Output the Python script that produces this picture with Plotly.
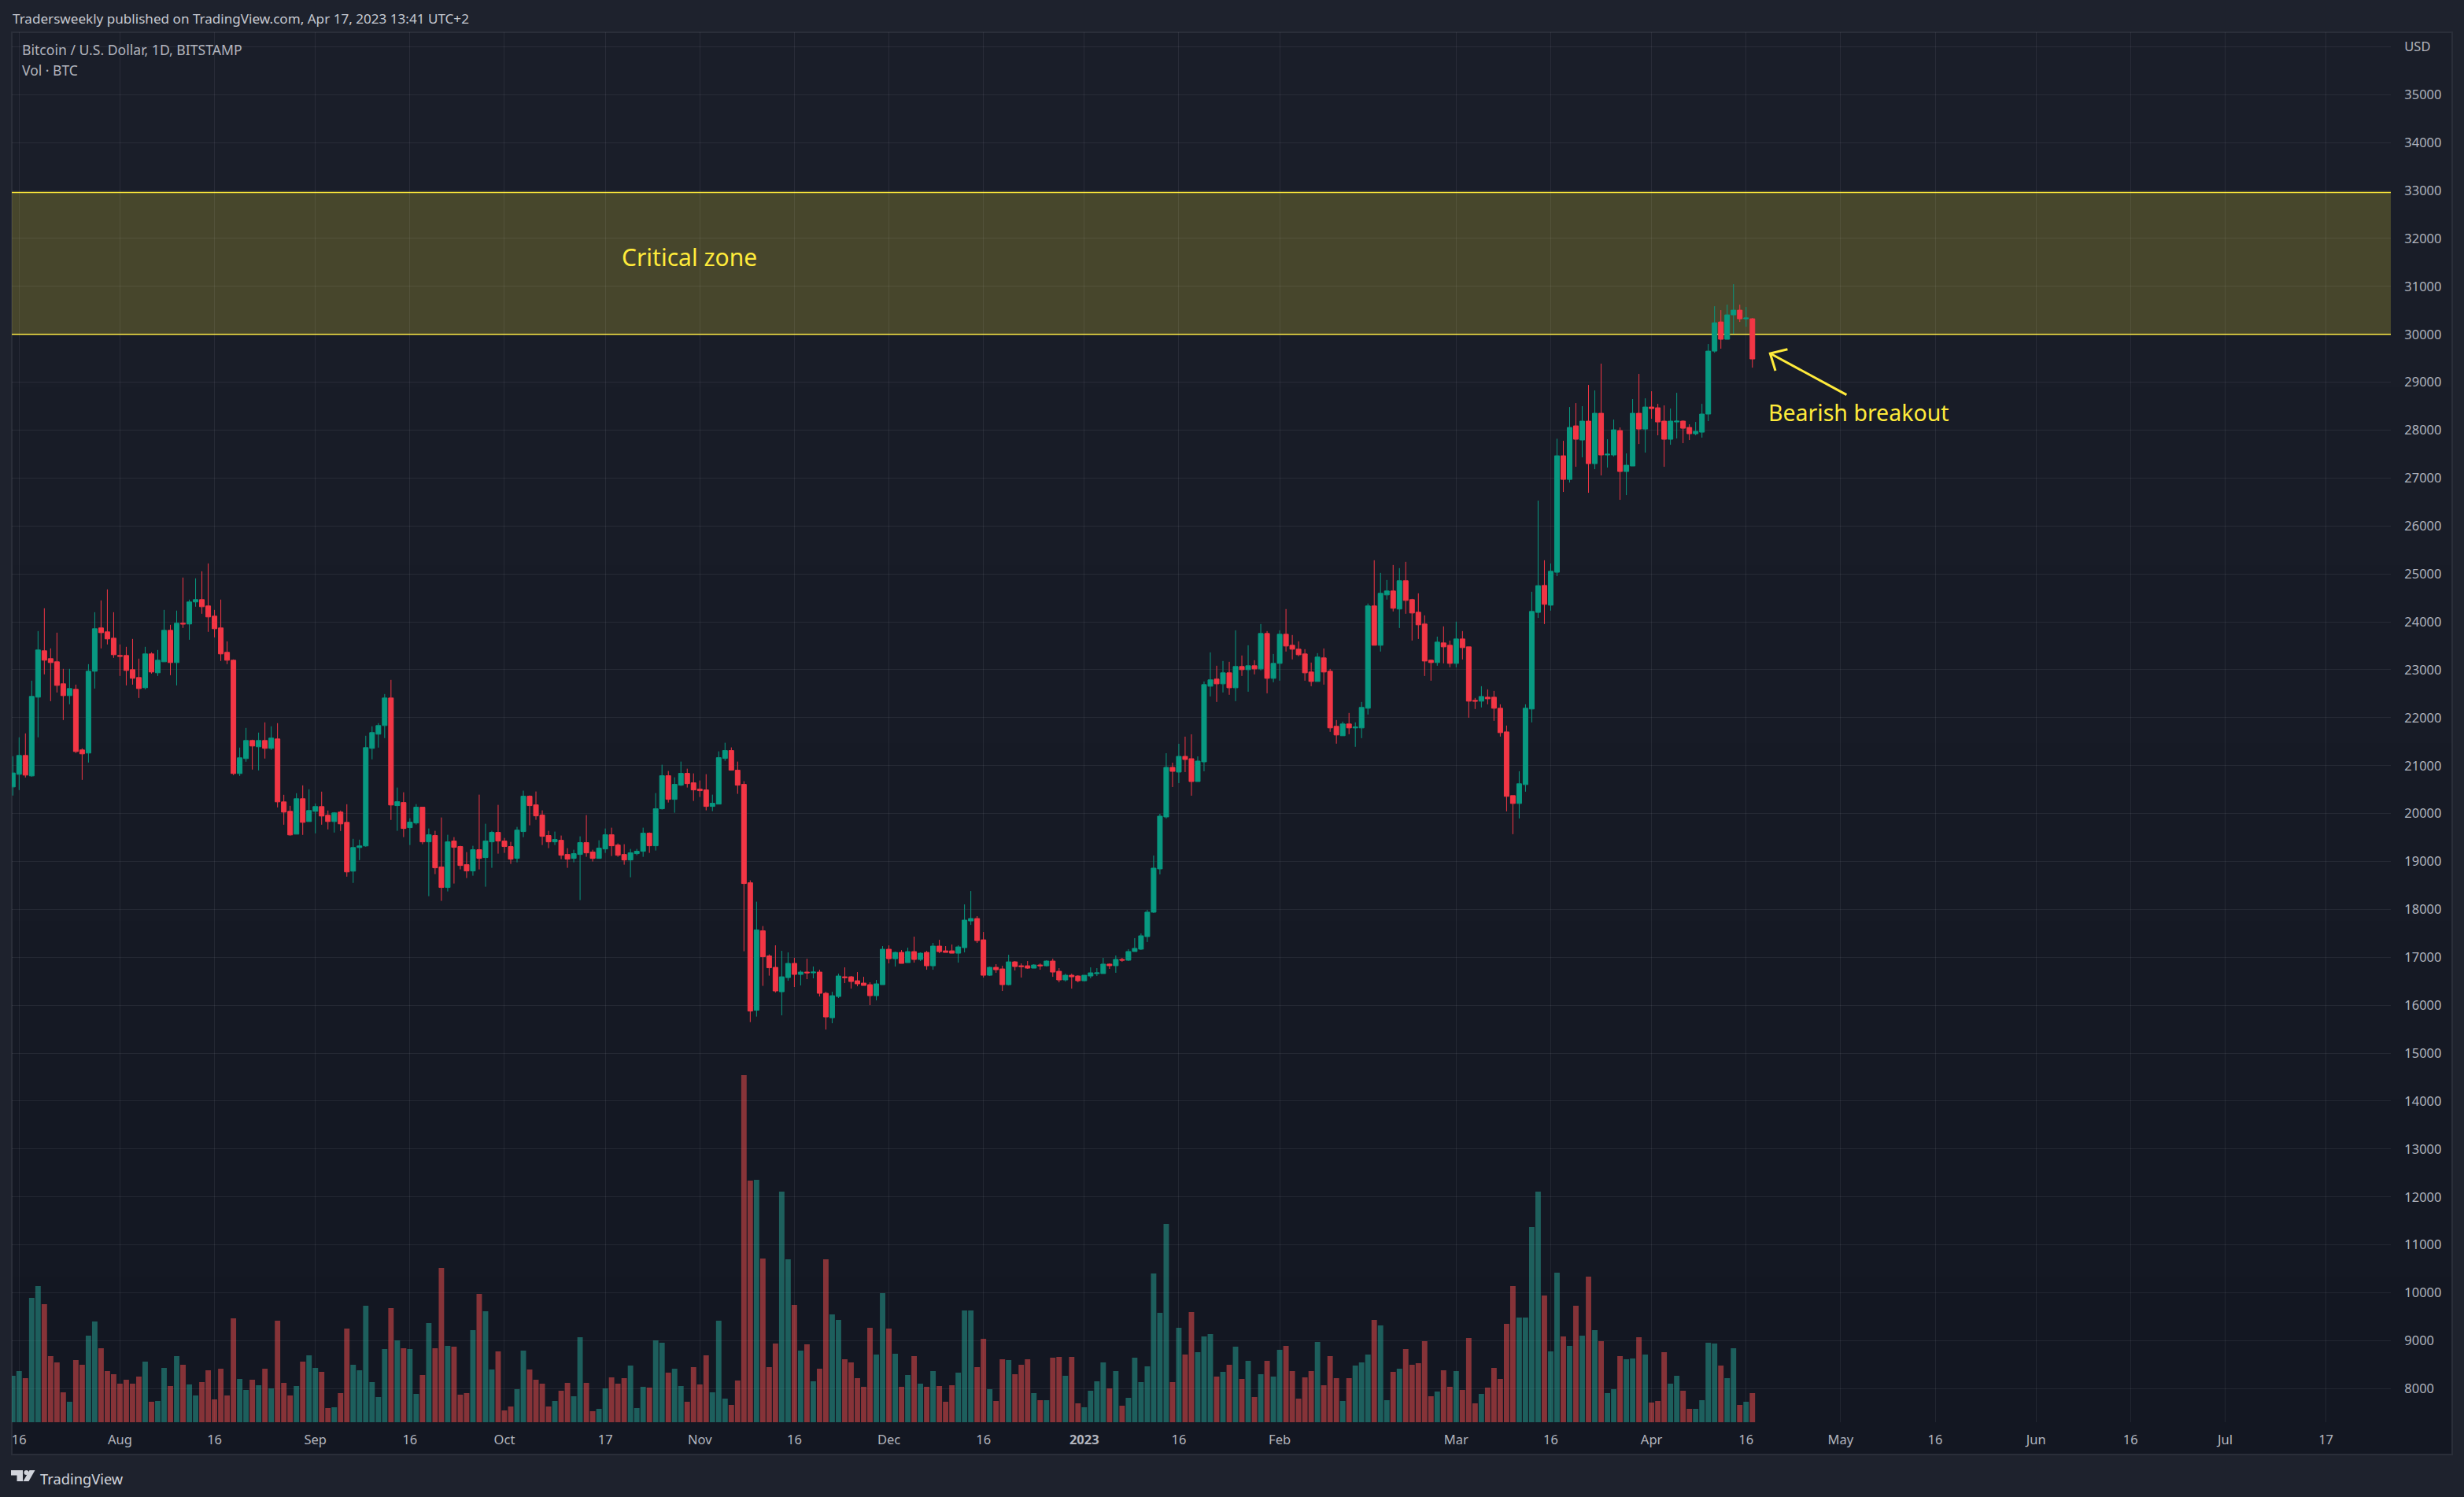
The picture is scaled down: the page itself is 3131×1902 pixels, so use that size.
import plotly.graph_objects as go
import pandas as pd

W, H = 3131, 1902
dates = pd.date_range("2022-07-15", periods=277, freq="D")

highs = [
21196,21590,21672,22772,23807,24283,23446,23774,23019,23019,
22690,21360,23117,24201,24447,24677,24201,23528,23479,23643,
23232,23479,23364,23413,24250,23938,24234,24924,24464,24907,
25055,25219,24250,24464,23593,23216,21376,21787,21541,21689,
21902,21820,21886,20391,20161,20424,20588,20506,20210,20457,
20063,20030,20063,20194,19472,19455,21623,21820,21886,22493,
22789,20542,20444,19902,20197,20132,19688,19639,19918,19557,
19508,19327,19196,19327,20394,19787,19639,20181,19491,19409,
19721,20477,20378,20460,20066,19639,19623,19541,19278,19245,
19524,19968,19245,19442,19688,19705,19376,19360,19261,19261,
19705,19606,20427,21019,20887,20756,21084,20936,20838,20690,
20821,20394,21298,21478,21380,21084,20674,18605,18161,17652,
17061,17250,17135,17102,16988,16725,16971,16807,16741,16281,
16281,16659,16790,16610,16692,16593,16478,16528,17234,17250,
17119,17152,17201,17431,17102,17135,17300,17365,17234,17267,
17250,18104,18383,17858,17529,16807,16856,16823,17053,16922,
16873,16922,16856,16873,16938,16971,16774,16659,16659,16626,
16626,16790,16774,16989,16874,17038,16989,17170,17400,17498,
17991,19124,19994,21259,21062,21456,21604,21653,21193,22756,
23363,23084,23183,23166,23823,23298,23511,23199,23955,23807,
23330,23823,24267,23725,23593,23429,23150,23347,23445,23018,
21951,21918,22099,21902,22329,24382,25285,25022,24874,25186,
25121,25252,24480,24595,24135,23215,23692,23905,23609,24004,
23807,23478,22411,22657,22591,22558,22279,21836,20374,20883,
22279,24628,26529,25285,25219,27821,27777,28483,28565,28500,
28943,28828,29387,27810,28221,28056,27514,28648,29173,28664,
28812,28549,28516,28450,28779,28204,28122,28171,28549,29797,
30585,30503,30618,31045,30618,30569,30339]

body_tops = [
20846,21212,21212,22444,23413,23396,23232,23166,22707,22608,
22592,21327,22969,23856,23873,23791,23659,23298,23298,23002,
22838,23331,23331,23199,23823,23823,23971,23971,24415,24464,
24464,24332,24119,23873,23364,23199,21163,21524,21524,21524,
21524,21574,21557,20243,20046,20309,20309,20063,20145,20145,
19964,20013,20030,19816,19291,19324,21376,21689,21836,22411,
22411,20247,20230,19820,20132,20132,19557,19541,18884,19409,
19426,19311,18933,19245,19245,19426,19606,19606,19426,19311,
19655,20362,20362,20181,19968,19541,19458,19442,19146,19163,
19393,19393,19196,19278,19557,19557,19343,19146,19179,19212,
19590,19590,20099,20789,20789,20608,20838,20838,20641,20509,
20493,20214,21166,21314,21314,20904,20608,18555,17570,17553,
17028,16790,16593,16873,16873,16692,16692,16692,16692,16249,
16199,16610,16593,16593,16511,16462,16429,16446,17168,17168,
17102,17102,17119,17119,17086,17102,17234,17234,17135,17135,
17217,17776,17809,17809,17365,16790,16790,16758,16905,16905,
16823,16823,16840,16840,16922,16922,16708,16626,16626,16610,
16626,16676,16676,16858,16858,16956,16956,17121,17186,17449,
17942,18861,19945,20963,20963,21193,21193,21144,21095,22690,
22789,22805,22936,22936,23068,23068,23084,23084,23757,23757,
23133,23741,23741,23511,23429,23330,22953,23265,23248,22969,
21820,21869,21869,21803,22214,24332,24332,24595,24644,24644,
24858,24858,24464,24201,23954,23199,23577,23560,23511,23642,
23642,23478,22361,22443,22427,22427,22197,21704,20374,20621,
22197,24217,24755,24759,25055,27465,27465,28056,28089,28188,
28188,28352,28352,27498,28007,27991,27268,28352,28352,28483,
28483,28467,28188,28188,28188,28188,28056,27974,28336,29649,
30240,30257,30405,30503,30503,30339,30323]

body_bottoms = [
20555,20818,20802,20785,22428,23199,23150,22674,22460,22460,
21294,21245,21262,22969,23774,23643,23314,23281,22986,22822,
22608,22625,22953,22937,23166,23150,23150,23955,23955,24415,
24316,24103,23856,23331,23199,20835,20835,21147,21409,21393,
21360,21360,20243,20030,19554,19570,19816,19833,20046,19948,
19833,19833,19784,18782,18798,19291,19324,21360,21656,21836,
20178,20165,19688,19705,19803,19409,19409,18867,18457,18457,
19294,18916,18802,18802,19064,19081,19409,19426,19311,19048,
19064,19623,20165,19951,19524,19409,19409,19130,19048,19064,
19146,19179,19064,19064,19261,19327,19130,19031,19031,19163,
19212,19327,19327,20099,20296,20296,20592,20624,20493,20477,
20148,20148,20197,21150,20904,20592,18539,15878,15895,17012,
16782,16298,16281,16577,16643,16643,16676,16676,16249,15756,
15739,16183,16577,16495,16446,16413,16199,16199,16429,16971,
16971,16873,16889,16955,16955,16823,16823,17119,17102,17086,
17086,17201,17759,17349,16626,16626,16741,16429,16429,16807,
16807,16774,16774,16823,16823,16692,16528,16528,16593,16511,
16511,16610,16659,16661,16825,16825,16940,16940,17121,17170,
17433,17942,18845,19929,20881,20865,21128,20668,20668,21078,
22657,22706,22706,22624,22624,23002,23002,23018,23018,22821,
22821,23133,23495,23429,23314,22936,22756,22756,22953,21787,
21639,21623,21787,21787,21787,22197,23511,23511,24562,24283,
24267,24447,24184,23938,23182,23150,23150,23478,23133,23133,
23462,22345,22345,22345,22394,22197,21688,20358,20210,20210,
20604,22181,24197,24365,24348,25035,26972,26972,27810,27794,
27301,27301,27482,27482,27482,27137,27137,27252,28023,28023,
28450,28171,27810,27810,28171,28040,27925,27925,27958,28336,
29649,29896,29896,30405,30323,30323,29485]

lows = [
20375,20490,20752,20769,21590,22904,22345,22526,21951,22280,
21262,20703,21064,22608,23446,23528,23249,22871,22674,22690,
22411,22592,22920,22871,23166,22887,22674,23873,23626,24316,
24168,23791,23676,23183,23117,20802,20785,21081,20917,20900,
21147,21327,20128,19767,19537,19570,19554,19833,19586,19767,
19669,19603,19636,18683,18552,19028,19307,21130,21376,21574,
19866,19639,19508,19343,19770,19360,18276,18736,18178,18375,
18539,18834,18654,18703,18834,18473,18867,19163,19179,18949,
18982,19508,19754,19869,19343,19278,19343,19048,18867,18982,
18194,19097,18999,19064,19179,19114,19097,18933,18670,19130,
19097,19179,19228,20083,20230,20017,20575,20542,20263,20345,
20066,20050,20197,21101,20904,20411,17127,15649,15763,16404,
16617,16265,15789,16511,16380,16413,16544,16561,16183,15493,
15624,16150,16462,16347,16396,16413,16002,16101,16429,16873,
16807,16873,16889,16889,16922,16741,16741,17086,17102,17086,
16889,17102,17677,17300,16577,16610,16676,16298,16413,16725,
16577,16758,16774,16741,16807,16593,16478,16495,16347,16478,
16495,16561,16610,16661,16759,16677,16907,16923,17121,17154,
17318,17925,18730,19896,20553,20635,20865,20372,20668,20881,
22444,22329,22526,22477,22345,22871,22542,22904,22986,22509,
22739,22772,23380,23216,23281,22772,22657,22756,22690,21705,
21458,21623,21655,21393,21573,22066,23511,23380,24464,24217,
23872,24168,23610,23642,22870,22772,23084,23133,23051,23051,
23215,22000,22181,22214,22279,21934,21606,20046,19570,19898,
20456,21902,24082,23954,24234,24953,26710,26907,27235,27432,
26693,27186,27055,27219,27449,26546,26644,27252,27711,27531,
28237,27892,27235,27695,27826,27728,27794,27892,27843,28188,
29616,29699,29896,30011,30257,30158,29304]

direction = ("ggrggrrrrg" "rrggrrrrrr" "rgrggrgrgg" "rrrrrrggrg" "rgrrrgrggr"
             "rgrrgggggg" "rgrggrgrrg" "rrrgrggrrr" "ggrrrrgrrg" "grrggrrrgg"
             "grggrggrrr" "rgggrrrrgr" "rrggrgrgrr" "ggrrrrrggr" "grgrgrgrrr"
             "gggrrgrrgr" "rrgrgrrgrr" "ggggrgrggg" "ggggrgrrgg" "grgrgrgrgr"
             "ggrrrrrgrr" "rgrgggrggr" "grrrrrgrrg" "rrrgrrrrrg" "gggrggrgrg"
             "rgrggrggrg" "rrrggrrggg" "grggrgr")

volumes = [
59,65,56,158,173,150,84,76,38,26,79,73,110,128,94,65,61,49,54,49,
58,77,26,27,69,46,84,73,48,34,51,66,29,68,34,132,55,41,54,47,
68,43,129,50,34,46,77,85,69,64,18,19,37,119,73,66,148,51,32,93,
145,104,94,93,36,60,126,94,196,97,96,35,37,117,163,141,67,90,15,20,
42,91,67,54,49,20,27,40,50,33,108,50,14,17,43,57,49,56,72,18,
45,44,104,101,63,68,46,26,70,48,85,38,129,30,22,53,441,307,308,208,
70,100,293,207,149,91,99,52,68,207,137,130,80,76,56,45,120,86,164,119,
87,45,60,84,49,45,65,46,26,47,63,142,142,70,106,42,27,80,79,61,
73,80,37,28,28,82,83,59,83,24,19,40,52,76,43,65,21,31,82,51,
71,189,139,252,51,120,86,140,89,109,112,58,64,73,96,55,78,32,61,78,
58,92,97,65,30,57,65,102,47,84,56,27,56,72,76,86,130,123,28,64,
68,93,73,75,103,33,39,66,45,65,41,107,24,36,44,69,55,125,173,133,
133,248,293,161,90,190,109,97,148,110,185,117,103,37,42,84,80,81,108,86,
25,27,89,49,59,40,17,17,28,101,100,72,56,94,22,26,37]

opens = [b if d == "g" else t for t, b, d in zip(body_tops, body_bottoms, direction)]
closes = [t if d == "g" else b for t, b, d in zip(body_tops, body_bottoms, direction)]

price_ticks = list(range(8000, 37000, 1000))
price_labels = [str(v) for v in price_ticks[:-1]] + ["USD"]
date_ticks = ["2022-07-16","2022-08-01","2022-08-16","2022-09-01","2022-09-16","2022-10-01","2022-10-17",
              "2022-11-01","2022-11-16","2022-12-01","2022-12-16","2023-01-01","2023-01-16","2023-02-01",
              "2023-03-01","2023-03-16","2023-04-01","2023-04-16","2023-05-01","2023-05-16","2023-06-01",
              "2023-06-16","2023-07-01","2023-07-17"]
date_labels = ["16","Aug","16","Sep","16","Oct","17","Nov","16","Dec","16","<b>2023</b>","16","Feb",
               "Mar","16","Apr","16","May","16","Jun","16","Jul","17"]
zone_low, zone_high = 30000, 32960

GREEN, RED = "#089981", "#f23645"
VGREEN, VRED = "rgba(39,167,152,0.5)", "rgba(250,80,78,0.5)"
YELLOW = "#ffeb3b"
TXT = "#b2b5be"
FONT = "Noto Sans"

fx = lambda x: x / W
fy = lambda y: 1 - y / H

fig = go.Figure()
fig.add_bar(x=dates, y=volumes, yaxis="y", xaxis="x",
            marker=dict(color=[VGREEN if d == "g" else VRED for d in direction], line_width=0),
            width=86400000 * 0.86, hoverinfo="skip", showlegend=False)
fig.add_candlestick(x=dates, open=opens, high=highs, low=lows, close=closes, yaxis="y2", xaxis="x",
                    increasing=dict(line=dict(color=GREEN, width=1), fillcolor=GREEN),
                    decreasing=dict(line=dict(color=RED, width=1), fillcolor=RED),
                    showlegend=False)

shapes = []
# pane background: vertical gradient, painted top to bottom
top, bot = (0x1a, 0x1e, 0x29), (0x13, 0x17, 0x22)
N = 8
for i in range(N):
    c = [round(a + (b - a) * i / (N - 1)) for a, b in zip(top, bot)]
    y0 = 41 + (1848 - 41) * i / N
    shapes.append(dict(type="rect", xref="paper", yref="paper", x0=fx(15), x1=fx(3116), y0=fy(y0), y1=fy(1848),
                       fillcolor="rgb(%d,%d,%d)" % tuple(c), line_width=0, layer="below"))
shapes.append(dict(type="rect", xref="paper", yref="paper", x0=fx(15), x1=fx(3116), y0=fy(41), y1=fy(1848),
                   fillcolor="rgba(0,0,0,0)", line=dict(color="#2a2e39", width=2), layer="below"))
# critical zone
shapes.append(dict(type="rect", xref="x domain", yref="y2", x0=0, x1=1, y0=zone_low, y1=zone_high,
                   fillcolor="rgba(255,235,59,0.2)", line_width=0, layer="below"))
for v in (zone_low, zone_high):
    shapes.append(dict(type="line", xref="x domain", yref="y2", x0=0, x1=1, y0=v, y1=v,
                       line=dict(color=YELLOW, width=1.5), layer="below"))


def path(pts, close=False):
    s = "M" + " L".join("%.5f,%.5f" % (fx(a), fy(b)) for a, b in pts)
    return s + (" Z" if close else "")


# arrow annotation
for seg in ([(2346.4, 501.7), (2249.3, 449)], [(2271.4, 443.7), (2249.3, 449), (2256, 471)]):
    shapes.append(dict(type="path", xref="paper", yref="paper", path=path(seg),
                       line=dict(color=YELLOW, width=3), fillcolor="rgba(0,0,0,0)", layer="above"))
# logo glyph
LOGO = "#d1d4dc"
shapes.append(dict(type="path", xref="paper", yref="paper",
                   path=path([(14, 1868), (29, 1868), (29, 1882), (21.5, 1882), (21.5, 1874.5), (14, 1874.5)], True),
                   fillcolor=LOGO, line_width=0, layer="above"))
shapes.append(dict(type="circle", xref="paper", yref="paper", x0=fx(30.5), x1=fx(36.5), y0=fy(1868), y1=fy(1874),
                   fillcolor=LOGO, line_width=0, layer="above"))
shapes.append(dict(type="path", xref="paper", yref="paper",
                   path=path([(37.5, 1868), (44.5, 1868), (36.5, 1882), (29.5, 1882)], True),
                   fillcolor=LOGO, line_width=0, layer="above"))


def label(text, x, y, size, color, anchor="left"):
    return dict(text=text, xref="paper", yref="paper", x=fx(x), y=fy(y), xanchor=anchor, yanchor="middle",
                showarrow=False, font=dict(family=FONT, size=size, color=color))


annotations = [
    label("Tradersweekly published on TradingView.com, Apr 17, 2023 13:41 UTC+2", 14, 23, 17.1, "#c5c8d0"),
    label("Bitcoin / U.S. Dollar, 1D, BITSTAMP", 26, 63, 17.6, TXT),
    label("Vol · BTC", 26, 89, 17.5, TXT),
    label("Critical zone", 788, 326, 30, YELLOW),
    label("Bearish breakout", 2245, 524, 28.5, YELLOW),
    label("TradingView", 49, 1878, 18.3, "#d1d4dc"),
]

fig.update_layout(
    width=W, height=H, margin=dict(l=0, r=0, t=0, b=0),
    paper_bgcolor="#1e222d", plot_bgcolor="rgba(0,0,0,0)",
    boxgap=0.25, boxgroupgap=0, barmode="overlay", showlegend=False,
    shapes=shapes, annotations=annotations,
    font=dict(family=FONT, size=16.5, color=TXT),
    xaxis=dict(type="date", domain=[fx(15), fx(3038)],
               range=["2022-07-14 20:08", "2023-07-27 07:00"],
               tickmode="array", tickvals=date_ticks, ticktext=date_labels,
               showgrid=True, gridcolor="rgba(240,243,250,0.07)", gridwidth=1,
               rangeslider=dict(visible=False), ticks="outside", ticklen=7, tickcolor="rgba(0,0,0,0)",
               showline=False, zeroline=False, tickfont=dict(family=FONT, size=16.5, color=TXT)),
    yaxis=dict(domain=[fy(1807), fy(41)], range=[0, 1766], visible=False, showgrid=False, fixedrange=True),
    yaxis2=dict(domain=[fy(1807), fy(41)], overlaying="y", side="right", anchor="x",
                range=[7299, 36302], tickmode="array", tickvals=price_ticks, ticktext=price_labels,
                showgrid=True, gridcolor="rgba(240,243,250,0.07)", gridwidth=1, zeroline=False, showline=False,
                ticks="outside", ticklen=13, tickcolor="rgba(0,0,0,0)",
                tickfont=dict(family=FONT, size=16.5, color=TXT)),
)

fig.write_html("out.html", config={"displayModeBar": False},
               post_script="document.body.style.margin='0';document.body.style.background='#1e222d';")
